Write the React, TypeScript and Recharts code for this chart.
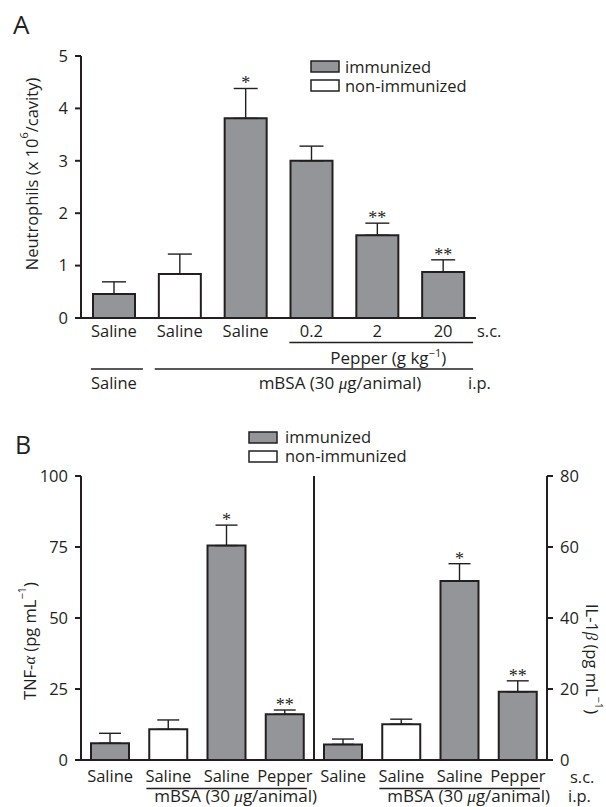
import React from 'react';
import { BarChart, Bar, XAxis, YAxis, ErrorBar, Cell, LabelList, Customized } from 'recharts';

const INK = '#231f20';
const GREY = '#939598';
const FONT = '"Open Sans", sans-serif';
const SERIF = '"Liberation Serif", serif';

// Panel A: neutrophil migration
const catsA = ['Saline', 'Saline', 'Saline', '0.2', '2', '20'];
const neutrophils = [0.46, 0.84, 3.81, 3.0, 1.58, 0.88];
const neutrophilsSem = [0.23, 0.38, 0.57, 0.28, 0.23, 0.23];
const immunizedA = [true, false, true, true, true, true];
const starsA = ['', '', '*', '', '**', '**'];
const ticksA = [0, 1, 2, 3, 4, 5];

// Panel B: TNF-alpha (left axis) and IL-1beta (right axis)
const catsB = ['Saline', 'Saline', 'Saline', 'Pepper', 'Saline', 'Saline', 'Saline', 'Pepper'];
const tnf = [5.9, 10.8, 75.5, 16.1];
const tnfSem = [3.5, 3.3, 7.2, 1.5];
const il1 = [4.4, 10.1, 50.4, 19.2];
const il1Sem = [1.5, 1.4, 4.9, 3.1];
const immunizedB = [true, false, true, true, true, false, true, true];
const starsB = ['', '', '*', '**', '', '', '*', '**'];
const ticksTnf = [0, 25, 50, 75, 100];
const ticksIl = [0, 20, 40, 60, 80];

const dataA = catsA.map((c, i) => ({
    id: 'a' + i,
    value: neutrophils[i],
    err: [0, neutrophilsSem[i]],
}));

const dataB = catsB.map((c, i) => ({
    id: 'b' + i,
    tnf: i < 4 ? tnf[i] : null,
    tnfErr: i < 4 ? [0, tnfSem[i]] : null,
    il: i >= 4 ? il1[i - 4] : null,
    ilErr: i >= 4 ? [0, il1Sem[i - 4]] : null,
}));

// plot geometry
const W = 606;
const A_H = 400;
const A_LEFT = 81;
const A_RIGHT = 476;
const A_TOP = 56;
const A_BOTTOM = 318;
const B_H = 407;
const B_LEFT = 81;
const B_RIGHT = 547;
const B_TOP = 76;
const B_BOTTOM = 360;

const bandA = (A_RIGHT - A_LEFT) / catsA.length;
const centerA = (i: number) => A_LEFT + (i + 0.5) * bandA;
const bandB = (B_RIGHT - B_LEFT) / catsB.length;
const centerB = (i: number) => B_LEFT + (i + 0.5) * bandB;

const axisLine = { stroke: INK, strokeWidth: 2 };
const tickStyle = { fill: INK, fontSize: 16.5 };

// asterisks above the error bar, using the bar's own pixel scale;
// the label value is the row id so the row is found even when null rows are skipped
const starLabel = (stars: string[], values: (number | null)[], sems: (number | null)[]) => (props: any) => {
    const vb = props.viewBox || props;
    const idx = Number(String(props.value).slice(1));
    const s = stars[idx];
    const v = values[idx];
    const e = sems[idx];
    if (!s || !v || e == null) return null;
    const perUnit = vb.height / v;
    const top = vb.y - e * perUnit;
    return (
        <text x={vb.x + vb.width / 2} y={top + 1} textAnchor="middle" fontFamily={SERIF} fontSize={18} fill={INK}>
            {s}
        </text>
    );
};

const LegendBox = ({ x, y, labelX, baseA, baseB }: any) => (
    <g>
        <rect x={x} y={y} width={28} height={11} fill={GREY} stroke={INK} strokeWidth={1.5} />
        <rect x={x} y={y + 19} width={28} height={11} fill="#fff" stroke={INK} strokeWidth={1.5} />
        <text x={labelX} y={baseA} fontSize={16.5} fill={INK}>immunized</text>
        <text x={labelX} y={baseB} fontSize={16.5} fill={INK}>non-immunized</text>
    </g>
);

const AnnotA = () => (
    <g fontFamily={FONT} fill={INK}>
        <text x={13} y={34} fontSize={26} fill={INK}>A</text>
        <text
            transform="rotate(-90 31 174)"
            x={31}
            y={174}
            textAnchor="middle"
            dominantBaseline="central"
            fontSize={16.5}
            fill={INK}
        >
            Neutrophils (x 10<tspan baselineShift="super" fontSize={11}>6</tspan>/cavity)
        </text>
        <LegendBox x={311} y={61} labelX={345} baseA={73} baseB={92} />

        <text x={477} y={337} fontSize={16.5} fill={INK}>s.c.</text>
        <line x1={centerA(3) - 22} x2={centerA(5) + 30} y1={342.5} y2={342.5} stroke={INK} strokeWidth={1.5} />
        <text x={centerA(4) + 11} y={364} textAnchor="middle" fontSize={17} fill={INK}>
            Pepper (g kg<tspan baselineShift="super" fontSize={11}>−1</tspan>)
        </text>

        <line x1={centerA(0) - 23} x2={centerA(0) + 29} y1={369} y2={369} stroke={INK} strokeWidth={1.5} />
        <line x1={centerA(1) - 25} x2={centerA(5) + 30} y1={369} y2={369} stroke={INK} strokeWidth={1.5} />
        <text x={centerA(0)} y={389} textAnchor="middle" fontSize={16.5} fill={INK}>Saline</text>
        <text x={340} y={389} textAnchor="middle" fontSize={17} fill={INK}>
            mBSA (30 <tspan fontFamily={SERIF} fontStyle="italic">μ</tspan>g/animal)
        </text>
        <text x={468} y={389} fontSize={16.5} fill={INK}>i.p.</text>
    </g>
);

const AnnotB = () => (
    <g fontFamily={FONT} fill={INK}>
        <text x={15} y={54} fontSize={25} fill={INK}>B</text>
        <LegendBox x={249} y={32} labelX={285} baseA={43} baseB={62} />
        <line x1={B_LEFT + 4 * bandB} x2={B_LEFT + 4 * bandB} y1={B_TOP} y2={B_BOTTOM} stroke={INK} strokeWidth={2} />

        <text
            transform="rotate(-90 29 241)"
            x={29}
            y={241}
            textAnchor="middle"
            dominantBaseline="central"
            fontSize={16.5}
            fill={INK}
        >
            TNF-<tspan fontFamily={SERIF} fontStyle="italic">α</tspan> (pg mL<tspan baselineShift="super" fontSize={11}>−1</tspan>)
        </text>
        <text
            transform="rotate(90 592 259)"
            x={592}
            y={259}
            textAnchor="middle"
            dominantBaseline="central"
            fontSize={16.5}
            fill={INK}
        >
            IL-1<tspan fontFamily={SERIF} fontStyle="italic">β</tspan> (pg mL<tspan baselineShift="super" fontSize={11}>−1</tspan>)
        </text>

        <text x={570} y={383} fontSize={16.5} fill={INK}>s.c.</text>
        <line x1={centerB(1) - 22} x2={centerB(3) + 22} y1={388.5} y2={388.5} stroke={INK} strokeWidth={1.5} />
        <line x1={centerB(5) - 22} x2={centerB(7) + 22} y1={388.5} y2={388.5} stroke={INK} strokeWidth={1.5} />
        <text x={(centerB(1) + centerB(3)) / 2 + 9} y={402} textAnchor="middle" fontSize={17} fill={INK}>
            mBSA (30 <tspan fontFamily={SERIF} fontStyle="italic">μ</tspan>g/animal)
        </text>
        <text x={(centerB(5) + centerB(7)) / 2 + 9} y={402} textAnchor="middle" fontSize={17} fill={INK}>
            mBSA (30 <tspan fontFamily={SERIF} fontStyle="italic">μ</tspan>g/animal)
        </text>
        <text x={568} y={402} fontSize={16.5} fill={INK}>i.p.</text>
    </g>
);

const tnfAll = dataB.map(d => d.tnf);
const tnfSemAll = catsB.map((c, i) => (i < 4 ? tnfSem[i] : null));
const ilAll = dataB.map(d => d.il);
const ilSemAll = catsB.map((c, i) => (i >= 4 ? il1Sem[i - 4] : null));

const App: React.FC = () => {
    return (
        <div style={{ position: 'absolute', left: 0, top: 0, width: W, height: 807, background: '#fff', fontFamily: FONT }}>
            <div style={{ position: 'absolute', left: 0, top: 0 }}>
                <BarChart
                    width={W}
                    height={A_H}
                    data={dataA}
                    margin={{ top: A_TOP, right: W - A_RIGHT, bottom: 0, left: 0 }}
                    barSize={42}
                >
                    <XAxis
                        dataKey="id"
                        height={A_H - A_BOTTOM}
                        interval={0}
                        tickFormatter={(v: any, i: number) => catsA[i]}
                        tickLine={false}
                        tickSize={0}
                        tickMargin={7}
                        axisLine={axisLine}
                        tick={tickStyle}
                    />
                    <YAxis
                        domain={[0, 5]}
                        ticks={ticksA}
                        width={A_LEFT}
                        tickSize={6}
                        tickMargin={7}
                        axisLine={axisLine}
                        tickLine={axisLine}
                        tick={tickStyle}
                    />
                    <Bar dataKey="value" isAnimationActive={false} stroke={INK} strokeWidth={2}>
                        {dataA.map((d, i) => (
                            <Cell key={d.id} fill={immunizedA[i] ? GREY : '#fff'} stroke={INK} strokeWidth={2} />
                        ))}
                        <ErrorBar dataKey="err" width={12} stroke={INK} strokeWidth={1.4} isAnimationActive={false} />
                        <LabelList dataKey="id" content={starLabel(starsA, neutrophils, neutrophilsSem)} />
                    </Bar>
                    <Customized component={<AnnotA />} />
                </BarChart>
            </div>

            <div style={{ position: 'absolute', left: 0, top: 400 }}>
                <BarChart
                    width={W}
                    height={B_H}
                    data={dataB}
                    margin={{ top: B_TOP, right: 0, bottom: 0, left: 0 }}
                    barSize={38}
                    barGap={-38}
                >
                    <XAxis
                        dataKey="id"
                        height={B_H - B_BOTTOM}
                        interval={0}
                        tickFormatter={(v: any, i: number) => catsB[i]}
                        tickLine={false}
                        tickSize={0}
                        tickMargin={10}
                        axisLine={axisLine}
                        tick={tickStyle}
                    />
                    <XAxis
                        xAxisId="top"
                        orientation="top"
                        dataKey="id"
                        height={0}
                        tick={false}
                        tickLine={false}
                        axisLine={axisLine}
                    />
                    <YAxis
                        yAxisId="tnf"
                        domain={[0, 100]}
                        ticks={ticksTnf}
                        width={B_LEFT}
                        tickSize={6}
                        tickMargin={7}
                        axisLine={axisLine}
                        tickLine={axisLine}
                        tick={tickStyle}
                    />
                    <YAxis
                        yAxisId="il"
                        orientation="right"
                        domain={[0, 80]}
                        ticks={ticksIl}
                        width={W - B_RIGHT}
                        tickSize={6}
                        tickMargin={7}
                        axisLine={axisLine}
                        tickLine={axisLine}
                        tick={tickStyle}
                    />
                    <Bar dataKey="tnf" yAxisId="tnf" isAnimationActive={false} stroke={INK} strokeWidth={2}>
                        {dataB.map((d, i) => (
                            <Cell key={d.id} fill={immunizedB[i] ? GREY : '#fff'} stroke={INK} strokeWidth={2} />
                        ))}
                        <ErrorBar dataKey="tnfErr" width={11} stroke={INK} strokeWidth={1.4} isAnimationActive={false} />
                        <LabelList dataKey="id" content={starLabel(starsB, tnfAll, tnfSemAll)} />
                    </Bar>
                    <Bar dataKey="il" yAxisId="il" isAnimationActive={false} stroke={INK} strokeWidth={2}>
                        {dataB.map((d, i) => (
                            <Cell key={d.id} fill={immunizedB[i] ? GREY : '#fff'} stroke={INK} strokeWidth={2} />
                        ))}
                        <ErrorBar dataKey="ilErr" width={11} stroke={INK} strokeWidth={1.4} isAnimationActive={false} />
                        <LabelList dataKey="id" content={starLabel(starsB, ilAll, ilSemAll)} />
                    </Bar>
                    <Customized component={<AnnotB />} />
                </BarChart>
            </div>
        </div>
    );
};

export default App;
